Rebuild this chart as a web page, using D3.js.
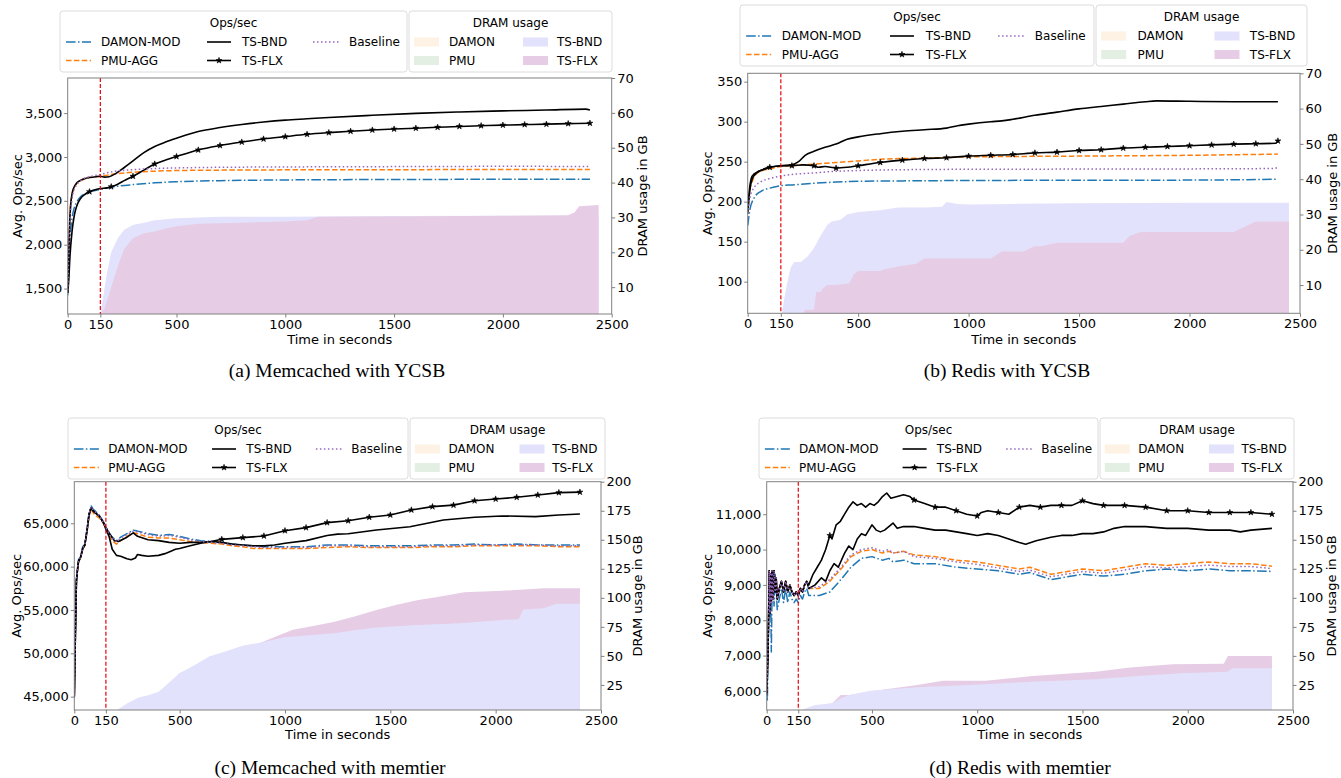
<!DOCTYPE html>
<html><head><meta charset="utf-8">
<script src="https://cdn.jsdelivr.net/npm/d3@7"></script>
<style>
body{margin:0;background:#fff}
svg{display:block}
</style>
</head><body>
<svg id="chart" width="1341" height="778" font-family="DejaVu Sans"></svg>
<script>
// ================= DATA =================
const xTicks = [0,150,500,1000,1500,2000,2500];
const opsTitle = "Ops/sec";
const dramTitle = "DRAM usage";
const opsLabels = ["DAMON-MOD","PMU-AGG","TS-BND","TS-FLX","Baseline"];
const dramLabels = ["DAMON","PMU","TS-BND","TS-FLX"];
const captions = ["(a) Memcached with YCSB","(b) Redis with YCSB","(c) Memcached with memtier","(d) Redis with memtier"];
const xLabel = "Time in seconds";
const yLabel = "Avg. Ops/sec";
const y2Label = "DRAM usage in GB";
const migrationStart = 150;

// ---- (a) Memcached with YCSB ----
const aYTicks = [1500,2000,2500,3000,3500];
const aY2Ticks = [10,20,30,40,50,60,70];
const aDamon = [[0,1420],[5,1800],[10,2050],[20,2300],[30,2420],[40,2480],[60,2550],[80,2580],[100,2600],[150,2630],[200,2655],[300,2685],[400,2705],[500,2718],[700,2730],[1000,2738],[1500,2743],[2000,2745],[2400,2745]];
const aPmu = [[0,1500],[5,2000],[10,2350],[20,2570],[30,2650],[40,2690],[60,2730],[80,2750],[100,2765],[150,2780],[200,2800],[300,2825],[400,2838],[500,2845],[700,2850],[1000,2853],[1500,2855],[2000,2857],[2400,2858]];
const aBase = [[0,1480],[5,1900],[10,2250],[20,2520],[30,2630],[40,2680],[60,2730],[80,2760],[100,2775],[150,2800],[200,2830],[300,2855],[400,2868],[500,2875],[700,2882],[1000,2886],[1500,2890],[2000,2893],[2400,2892]];
const aBnd = [[0,1450],[5,1900],[10,2300],[20,2580],[30,2660],[40,2700],[60,2735],[80,2755],[100,2765],[130,2775],[150,2780],[170,2770],[190,2775],[220,2810],[260,2880],[300,2955],[350,3050],[400,3120],[450,3170],[500,3213],[600,3290],[700,3335],[800,3370],[900,3398],[1000,3420],[1100,3435],[1200,3450],[1400,3475],[1600,3497],[1800,3513],[2000,3525],[2200,3535],[2380,3545],[2400,3535]];
const aFlx = [[0,1450],[5,1600],[10,1850],[20,2150],[30,2330],[40,2430],[60,2530],[80,2575],[100,2604],[130,2630],[150,2640],[180,2648],[200,2661],[230,2690],[260,2730],[300,2780],[350,2850],[400,2920],[450,2965],[500,3005],[600,3080],[700,3130],[800,3170],[900,3205],[1000,3232],[1100,3258],[1200,3277],[1300,3293],[1400,3307],[1500,3318],[1600,3328],[1700,3338],[1800,3348],[1900,3356],[2000,3363],[2100,3369],[2200,3374],[2300,3380],[2400,3385]];
const aBndMem = [[150,2.3],[160,6],[180,14],[200,20],[230,24],[260,26.5],[300,27.8],[350,28.5],[400,29.2],[500,29.8],[700,30.2],[1000,30.2],[1500,30.4],[2000,30.5],[2440,30.5]];
const aFlxMem = [[150,2.3],[170,4],[200,10],[230,16],[260,21],[300,24],[350,25.5],[400,26],[450,26.8],[500,27.5],[600,28.2],[800,28.5],[1000,28.8],[1100,29.2],[1150,30.2],[1500,30.3],[2000,30.5],[2300,30.6],[2330,31.5],[2350,33.2],[2440,33.6]];

// ---- (b) Redis with YCSB ----
const bYTicks = [100,150,200,250,300,350];
const bY2Ticks = [10,20,30,40,50,60,70];
const bDamon = [[0,170],[10,190],[30,205],[60,213],[100,217],[150,220],[200,221],[300,223],[400,224.5],[500,225.5],[700,226],[1000,226.5],[2000,227],[2400,228]];
const bPmu = [[0,185],[10,215],[20,225],[50,237],[100,241],[150,244],[200,245],[300,247],[400,249],[500,251],[600,253],[800,254.5],[1000,256],[1500,257],[2000,258],[2400,259.5]];
const bBase = [[0,180],[10,205],[30,218],[60,225],[100,229],[150,232],[200,234],[300,236],[400,238],[500,239],[700,240],[1000,240.5],[2000,241],[2380,241.5],[2400,243]];
const bBnd = [[0,185],[10,215],[20,228],[40,236],[70,240],[100,243],[150,245],[200,246],[230,250],[260,258],[300,263],[350,268],[400,272],[450,278],[500,281],[600,285],[700,288],[800,290],[900,292],[950,295],[1000,297],[1100,300],[1150,301],[1200,303],[1300,308],[1400,312],[1500,316],[1600,319],[1700,322],[1800,325],[1850,326],[2000,325.5],[2200,325],[2400,325]];
const bFlx = [[0,190],[10,220],[20,232],[50,238],[100,243],[150,245],[200,245],[250,246],[300,245],[320,243],[350,244],[400,242],[450,243],[500,245],[600,249],[700,252],[800,254],[900,255],[1000,257],[1100,258],[1200,259],[1300,261],[1400,262],[1500,264],[1600,265],[1700,267],[1800,268],[1900,269],[2000,270],[2100,271],[2200,272],[2300,272.5],[2390,273],[2400,276]];
const bBndMem = [[155,2],[165,6],[180,11],[195,15],[210,16.5],[240,16.5],[270,18],[300,20.5],[330,24],[360,27],[380,28],[420,28.5],[450,30],[500,30.7],[600,31.2],[680,32],[800,32],[880,32.2],[900,33.5],[950,33],[1000,32.8],[1200,33],[1500,33.2],[2000,33.3],[2450,33.3]];
const bFlxMem = [[250,2],[260,3],[300,3],[310,8],[330,8],[340,9],[360,10],[400,10],[460,10.5],[480,13],[500,14],[600,14],[620,14.5],[660,15],[700,15.5],[760,16],[800,17.5],[1100,17.5],[1150,19.5],[1250,19.5],[1280,20.5],[1300,21],[1330,21],[1400,22],[1700,22],[1730,24],[1780,25],[2200,25],[2250,26.5],[2300,28],[2450,28]];

// ---- (c) Memcached with memtier ----
const cYTicks = [45000,50000,55000,60000,65000];
const cY2Ticks = [25,50,75,100,125,150,175,200];
const cDamon = [[0,45200],[5,52000],[10,58500],[15,59800],[20,60800],[30,61200],[40,62300],[50,62600],[60,64300],[70,66200],[80,67000],[90,66600],[100,66400],[120,65900],[140,65100],[150,64600],[170,63700],[180,63400],[200,63000],[220,63400],[250,63800],[280,64200],[300,64100],[350,63800],[400,63600],[450,63700],[500,63500],[550,63200],[600,63000],[650,62900],[700,62700],[750,62600],[800,62500],[850,62400],[900,62300],[1000,62300],[1100,62300],[1200,62500],[1300,62500],[1400,62400],[1500,62400],[1600,62400],[1700,62500],[1800,62500],[1900,62600],[2000,62500],[2100,62600],[2200,62500],[2300,62500],[2400,62500]];
const cPmu = [[0,45000],[5,52000],[10,58200],[15,59500],[20,60500],[30,61000],[40,62000],[50,62400],[60,63900],[70,65800],[80,66600],[90,66200],[100,65900],[120,65600],[140,64900],[150,64400],[170,63400],[180,63000],[200,62600],[220,63000],[250,63500],[280,63900],[300,63800],[350,63400],[400,63300],[450,63300],[500,63100],[550,62900],[600,62800],[650,62700],[700,62600],[750,62400],[800,62300],[850,62100],[900,62100],[1000,62100],[1100,62100],[1200,62200],[1300,62300],[1400,62200],[1500,62200],[1600,62200],[1700,62300],[1800,62300],[1900,62400],[2000,62400],[2100,62400],[2200,62400],[2300,62300],[2400,62300]];
const cBase = [[0,44800],[5,51800],[10,58400],[15,59700],[20,60700],[30,61100],[40,62200],[50,62500],[60,64200],[70,66100],[80,66900],[90,66500],[100,66300],[120,65800],[140,65000],[150,64500],[170,63600],[180,63300],[200,62900],[220,63300],[250,63700],[280,64100],[300,64000],[350,63700],[400,63500],[450,63600],[500,63400],[550,63100],[600,62900],[650,62800],[700,62700],[750,62500],[800,62400],[850,62300],[900,62200],[1000,62200],[1100,62200],[1200,62400],[1300,62400],[1400,62300],[1500,62300],[1600,62300],[1700,62400],[1800,62400],[1900,62500],[2000,62500],[2100,62500],[2200,62500],[2300,62400],[2400,62400]];
const cBnd = [[0,45000],[5,52000],[10,58300],[15,59600],[20,60600],[30,61100],[40,62100],[50,62500],[60,64100],[70,66000],[80,66800],[90,66400],[100,66200],[120,65800],[140,65000],[150,64500],[170,63700],[190,63000],[210,62900],[250,63400],[280,63900],[300,63500],[350,63100],[400,63000],[450,62800],[500,62700],[550,62800],[600,62800],[650,62900],[700,62800],[750,62600],[800,62500],[850,62400],[900,62400],[950,62500],[1000,62700],[1100,63000],[1200,63600],[1250,63750],[1300,63800],[1434,64230],[1593,64600],[1752,65380],[1900,65700],[2030,65850],[2189,65770],[2300,65950],[2400,66080]];
const cFlx = [[0,45000],[5,52000],[10,58300],[15,59600],[20,60600],[30,61100],[40,62100],[50,62500],[60,64100],[70,66000],[80,66800],[90,66400],[100,66200],[120,65800],[140,65000],[150,64300],[165,63500],[180,62000],[200,61300],[220,61200],[250,60900],[270,60800],[290,61000],[300,61400],[320,61300],[350,61200],[400,61300],[430,61500],[450,61700],[480,62000],[500,62100],[550,62400],[600,62700],[650,62900],[700,63150],[800,63350],[900,63540],[1000,64150],[1100,64500],[1200,65080],[1300,65300],[1400,65700],[1500,65960],[1600,66540],[1700,66920],[1800,67100],[1900,67600],[2000,67800],[2100,68000],[2200,68270],[2300,68540],[2400,68600]];
const cBndMem = [[203,3.4],[250,9],[302,14],[350,16],[401,19.2],[450,27],[500,35],[570,42],[640,49.4],[720,54],[798,58.8],[900,62],[997,66],[1100,67.5],[1235,69.5],[1330,72],[1434,74.4],[1533,75.5],[1633,76.7],[1831,78],[2030,81],[2110,81.5],[2130,90],[2228,91],[2290,94.8],[2400,94.8]];
const cFlxMem = [[300,3.4],[350,10],[400,19],[441,24],[500,35.3],[580,40.7],[660,48.8],[760,55],[878,60.9],[960,67],[1037,72.4],[1140,76],[1235,79.5],[1330,84],[1434,89.6],[1530,94],[1633,98.2],[1731,101],[1851,104.9],[2030,106],[2228,108.3],[2400,108.3]];

// ---- (d) Redis with memtier ----
const dYTicks = [6000,7000,8000,9000,10000,11000];
const dY2Ticks = [25,50,75,100,125,150,175,200];
const dDamon = [[0,6000],[3,5700],[6,6900],[10,8300],[12,9300],[15,8100],[18,9200],[22,7100],[25,8600],[30,9300],[35,8400],[40,9300],[45,8900],[50,8300],[60,8600],[70,8900],[80,8500],[90,8900],[100,8500],[110,8800],[120,8600],[130,8500],[140,8600],[150,8500],[160,8700],[170,8600],[180,8800],[190,8900],[200,8700],[250,8700],[300,8800],[330,9000],[360,9200],[400,9500],[450,9750],[500,9800],[550,9700],[580,9750],[600,9650],[650,9700],[700,9600],[800,9600],[900,9500],[1000,9450],[1100,9400],[1200,9300],[1250,9350],[1350,9150],[1400,9200],[1500,9300],[1600,9250],[1700,9300],[1800,9400],[1900,9450],[2000,9400],[2100,9450],[2200,9400],[2300,9400],[2400,9380]];
const dPmu = [[0,6000],[3,6600],[6,7100],[10,8500],[12,9400],[15,8200],[18,9300],[22,8500],[25,9400],[30,8600],[35,9400],[40,8800],[45,9200],[50,8600],[60,8900],[70,9100],[80,8800],[90,9100],[100,8800],[110,9000],[120,8800],[130,8700],[140,8800],[150,8700],[160,8900],[170,8800],[180,9000],[190,9100],[200,8900],[250,8900],[300,9100],[330,9300],[360,9500],[400,9800],[450,9950],[500,10000],[550,9900],[580,9950],[600,9900],[650,9950],[700,9850],[800,9800],[900,9700],[1000,9650],[1100,9550],[1200,9450],[1250,9500],[1350,9300],[1400,9350],[1500,9450],[1600,9400],[1700,9500],[1800,9600],[1900,9550],[2000,9600],[2100,9650],[2200,9600],[2300,9600],[2400,9530]];
const dBase = [[0,5900],[3,6500],[6,7000],[10,8500],[12,9400],[15,8200],[18,9300],[22,8500],[25,9400],[30,8600],[35,9400],[40,8800],[45,9200],[50,8600],[60,8900],[70,9100],[80,8800],[90,9100],[100,8800],[110,9000],[120,8800],[130,8700],[140,8800],[150,8700],[160,8900],[170,8800],[180,9000],[190,9100],[200,8900],[250,8950],[300,9150],[330,9350],[360,9550],[400,9850],[450,10000],[500,10050],[550,9950],[580,10000],[600,9900],[650,9950],[700,9800],[800,9750],[900,9650],[1000,9580],[1100,9480],[1200,9380],[1250,9420],[1350,9230],[1400,9280],[1500,9380],[1600,9330],[1700,9420],[1800,9520],[1900,9480],[2000,9520],[2100,9560],[2200,9520],[2300,9520],[2400,9460]];
const dBnd = [[0,5900],[3,6500],[6,7000],[10,8500],[12,9400],[15,8200],[18,9300],[22,8500],[25,9400],[30,8600],[35,9400],[40,8800],[45,9200],[50,8600],[60,8900],[70,9100],[80,8800],[90,9100],[100,8800],[110,9000],[120,8800],[130,8700],[140,8800],[150,8700],[160,8900],[170,8800],[180,9000],[190,9100],[200,8900],[230,9000],[260,9200],[280,9100],[300,9400],[320,9600],[340,9500],[370,9900],[390,10100],[410,10000],[430,10300],[450,10450],[470,10400],[500,10700],[520,10550],[540,10500],[560,10550],[600,10750],[620,10600],[650,10650],[700,10650],[750,10600],[800,10550],[850,10550],[900,10500],[950,10450],[1000,10400],[1050,10450],[1100,10400],[1150,10300],[1200,10200],[1230,10150],[1280,10250],[1350,10350],[1400,10400],[1450,10400],[1500,10450],[1550,10450],[1600,10500],[1650,10600],[1700,10650],[1750,10650],[1800,10650],[1900,10600],[2000,10600],[2100,10550],[2200,10550],[2250,10500],[2300,10550],[2400,10600]];
const dFlx = [[0,5900],[3,6500],[6,7000],[10,8500],[12,9400],[15,8200],[18,9300],[22,8500],[25,9400],[30,8600],[35,9400],[40,8800],[45,9200],[50,8600],[60,8900],[70,9100],[80,8800],[90,9100],[100,8800],[110,9000],[120,8800],[130,8700],[140,8800],[150,8700],[160,8900],[170,8800],[180,9000],[190,9100],[200,9000],[220,9300],[240,9500],[260,9700],[280,10000],[300,10400],[310,10300],[330,10700],[350,10800],[370,11000],[390,11200],[410,11350],[430,11250],[450,11300],[470,11200],[490,11300],[510,11250],[530,11350],[550,11500],[570,11600],[590,11450],[620,11500],[650,11550],[680,11500],[700,11400],[750,11300],[800,11200],[850,11200],[900,11100],[950,11000],[1000,10950],[1020,11050],[1050,11100],[1100,11050],[1150,11000],[1200,11200],[1250,11250],[1300,11200],[1350,11250],[1400,11250],[1450,11250],[1500,11380],[1550,11300],[1600,11250],[1700,11250],[1800,11200],[1900,11100],[2000,11100],[2100,11050],[2200,11050],[2300,11050],[2400,11000]];
const dBndMem = [[170,3.4],[230,7.7],[311,9.2],[352,13.5],[392,16.3],[493,20],[715,23],[958,25],[1261,27.8],[1564,29.9],[1766,32.7],[1969,35],[2191,36.4],[2211,39.3],[2400,39.3]];
const dFlxMem = [[170,3.4],[210,6.2],[311,9.2],[352,16.3],[392,16.3],[513,20],[715,25],[837,28.5],[1039,28.5],[1261,32.7],[1564,36.4],[1726,39.9],[1928,42.8],[2171,43.2],[2191,50],[2400,50]];

// ================= STYLE / LAYOUT =================
const lineStyles = {
  damon:{color:"#1f77b4", dash:"9.6,2.4,1.5,2.4", w:1.5},
  pmu:{color:"#ff7f0e", dash:"5.5,2.4", w:1.5},
  bnd:{color:"#000", dash:null, w:1.6},
  flx:{color:"#000", dash:null, w:1.6, marker:true},
  base:{color:"#9467bd", dash:"1.5,2.5", w:1.5}
};
const areaColors = {damon:"#fdf2e3", pmu:"#e4efe3", bnd:"#e2e2fc", flx:"#e6cde5"};
const starSize = 11;

const panels = [
  {L:67.7,R:611.7,T:78,B:314, yDom:[1210,3900], y2Dom:[2.3,70], yT:aYTicks, y2T:aY2Ticks, smooth:true,
   lines:{damon:aDamon,pmu:aPmu,bnd:aBnd,flx:aFlx,base:aBase}, areas:{bnd:aBndMem,flx:aFlxMem}, areaOrder:["bnd","flx"], markStart:100,
   legTop:11, opsX:60, opsW:347, dramX:409, dramW:203, capX:337, capY:377, yLabX:17, y2LabX:642, xLabY:344},
  {L:747.7,R:1300,T:73.3,B:313.3, yDom:[60.5,360.5], y2Dom:[2,70], yT:bYTicks, y2T:bY2Ticks, smooth:true,
   lines:{damon:bDamon,pmu:bPmu,bnd:bBnd,flx:bFlx,base:bBase}, areas:{bnd:bBndMem,flx:bFlxMem}, areaOrder:["bnd","flx"], markStart:100,
   legTop:5, opsX:740, opsW:354, dramX:1096, dramW:211, capX:1007, capY:377, yLabX:707, y2LabX:1332, xLabY:344},
  {L:74.3,R:601,T:481.7,B:710, yDom:[43460,69800], y2Dom:[3.4,200], yT:cYTicks, y2T:cY2Ticks, smooth:false,
   lines:{damon:cDamon,pmu:cPmu,bnd:cBnd,flx:cFlx,base:cBase}, areas:{bnd:cBndMem,flx:cFlxMem}, areaOrder:["flx","bnd"], markStart:700,
   legTop:418, opsX:68, opsW:340, dramX:410, dramW:195, capX:330, capY:774, yLabX:16, y2LabX:637, xLabY:739},
  {L:766.7,R:1293,T:481.7,B:710, yDom:[5460,11920], y2Dom:[3.4,200], yT:dYTicks, y2T:dY2Ticks, smooth:false,
   lines:{damon:dDamon,pmu:dPmu,bnd:dBnd,flx:dFlx,base:dBase}, areas:{bnd:dBndMem,flx:dFlxMem}, areaOrder:["flx","bnd"], markStart:300,
   legTop:418, opsX:759, opsW:339, dramX:1100, dramW:194, capX:1020, capY:774, yLabX:707, y2LabX:1331, xLabY:739}
];

const svg = d3.select("#chart");
const fmt = d3.format(",");
const spineColor = "#808080";

panels.forEach((p, i) => {
  const x = d3.scaleLinear().domain([0,2500]).range([p.L,p.R]);
  const y = d3.scaleLinear().domain(p.yDom).range([p.B,p.T]);
  const y2 = d3.scaleLinear().domain(p.y2Dom).range([p.B,p.T]);
  const g = svg.append("g");
  const clipId = "clip"+i;
  svg.append("clipPath").attr("id",clipId).append("rect")
    .attr("x",p.L).attr("y",p.T).attr("width",p.R-p.L).attr("height",p.B-p.T);
  const plot = g.append("g").attr("clip-path",`url(#${clipId})`);

  // areas
  const area = d3.area().x(d=>x(d[0])).y0(p.B).y1(d=>y2(d[1]));
  p.areaOrder.forEach(k => {
    plot.append("path").datum(p.areas[k]).attr("d",area).attr("fill",areaColors[k]);
  });

  // lines
  const line = d3.line().x(d=>x(d[0])).y(d=>y(d[1]))
    .curve(p.smooth ? d3.curveMonotoneX : d3.curveLinear);
  ["damon","pmu","bnd","flx","base"].forEach(k => {
    const s = lineStyles[k];
    plot.append("path").datum(p.lines[k]).attr("d",line)
      .attr("fill","none").attr("stroke",s.color).attr("stroke-width",s.w)
      .attr("stroke-dasharray",s.dash).attr("stroke-linejoin","round");
    if (s.marker) {
      const pts = p.lines[k].filter(d => d[0] >= p.markStart && d[0] % 100 === 0);
      plot.selectAll(null).data(pts).enter().append("path")
        .attr("d", d3.symbol().type(d3.symbolStar).size(starSize))
        .attr("transform", d=>`translate(${x(d[0])},${y(d[1])})`)
        .attr("fill","#000").attr("stroke","#000").attr("stroke-width",0.6);
    }
  });

  // migration start line
  plot.append("line").attr("x1",x(migrationStart)).attr("x2",x(migrationStart))
    .attr("y1",p.T).attr("y2",p.B).attr("stroke","#e8000b").attr("stroke-width",1.2)
    .attr("stroke-dasharray","4,2");

  // axes
  const ax = g.append("g").attr("transform",`translate(0,${p.B})`)
    .call(d3.axisBottom(x).tickValues(xTicks).tickFormat(d3.format("d")).tickSize(3.5).tickPadding(2));
  const ay = g.append("g").attr("transform",`translate(${p.L},0)`)
    .call(d3.axisLeft(y).tickValues(p.yT).tickFormat(fmt).tickSize(3.5).tickPadding(2));
  const ay2 = g.append("g").attr("transform",`translate(${p.R},0)`)
    .call(d3.axisRight(y2).tickValues(p.y2T).tickSize(3.5).tickPadding(2));
  [ax,ay,ay2].forEach(a => {
    a.select(".domain").remove();
    a.selectAll(".tick line").attr("stroke",spineColor);
    a.selectAll("text").attr("font-size",13).attr("font-family","DejaVu Sans").attr("fill","#000");
  });
  g.append("rect").attr("x",p.L).attr("y",p.T).attr("width",p.R-p.L).attr("height",p.B-p.T)
    .attr("fill","none").attr("stroke",spineColor).attr("stroke-width",1);

  // axis labels
  g.append("text").attr("x",(p.L+p.R)/2).attr("y",p.xLabY).attr("text-anchor","middle")
    .attr("font-size",13).text(xLabel);
  g.append("text").attr("transform",`translate(${p.yLabX},${(p.T+p.B)/2}) rotate(-90)`)
    .attr("text-anchor","middle").attr("dominant-baseline","central").attr("font-size",13).text(yLabel);
  g.append("text").attr("transform",`translate(${p.y2LabX},${(p.T+p.B)/2}) rotate(-90)`)
    .attr("text-anchor","middle").attr("dominant-baseline","central").attr("font-size",13).text(y2Label);

  // caption
  g.append("text").attr("x",p.capX).attr("y",p.capY).attr("text-anchor","middle")
    .attr("font-family","Liberation Serif").attr("font-size",19.5).text(captions[i]);

  // ---- legends ----
  const boxH = 61;
  const lg = g.append("g");
  // ops legend
  lg.append("rect").attr("x",p.opsX).attr("y",p.legTop).attr("width",p.opsW).attr("height",boxH)
    .attr("rx",3).attr("fill","#fff").attr("stroke","#dcdcdc");
  lg.append("text").attr("x",p.opsX+p.opsW/2).attr("y",p.legTop+16).attr("text-anchor","middle")
    .attr("font-size",12).text(opsTitle);
  const sc = p.opsW/347;
  const opsKeys = ["damon","pmu","bnd","flx","base"];
  const opsPos = [[0,0],[0,1],[1,0],[1,1],[2,0]];
  const colH = [6,147,253], colT = [41,182,289], hW = [25,24,26];
  opsKeys.forEach((k,j) => {
    const [c,r] = opsPos[j];
    const s = lineStyles[k];
    const yy = p.legTop + 31 + r*18.5;
    const hx = p.opsX + colH[c]*sc;
    lg.append("line").attr("x1",hx).attr("x2",hx+hW[c]).attr("y1",yy).attr("y2",yy)
      .attr("stroke",s.color).attr("stroke-width",s.w).attr("stroke-dasharray",s.dash);
    if (s.marker) {
      lg.append("path").attr("d",d3.symbol().type(d3.symbolStar).size(starSize))
        .attr("transform",`translate(${hx+hW[c]/2},${yy})`).attr("fill","#000")
        .attr("stroke","#000").attr("stroke-width",0.6);
    }
    lg.append("text").attr("x",p.opsX+colT[c]*sc).attr("y",yy).attr("dominant-baseline","central")
      .attr("font-size",12).text(opsLabels[j]);
  });
  // dram legend
  lg.append("rect").attr("x",p.dramX).attr("y",p.legTop).attr("width",p.dramW).attr("height",boxH)
    .attr("rx",3).attr("fill","#fff").attr("stroke","#dcdcdc");
  lg.append("text").attr("x",p.dramX+p.dramW/2).attr("y",p.legTop+16).attr("text-anchor","middle")
    .attr("font-size",12).text(dramTitle);
  const sd = p.dramW/203;
  const dramKeys = ["damon","pmu","bnd","flx"];
  const dramPos = [[0,0],[0,1],[1,0],[1,1]];
  const dColP = [5,114], dColT = [40,148];
  dramKeys.forEach((k,j) => {
    const [c,r] = dramPos[j];
    const yy = p.legTop + 31 + r*18.5;
    lg.append("rect").attr("x",p.dramX+dColP[c]*sd).attr("y",yy-4.5).attr("width",25).attr("height",9)
      .attr("fill",areaColors[k]);
    lg.append("text").attr("x",p.dramX+dColT[c]*sd).attr("y",yy).attr("dominant-baseline","central")
      .attr("font-size",12).text(dramLabels[j]);
  });
});
</script>
</body></html>
